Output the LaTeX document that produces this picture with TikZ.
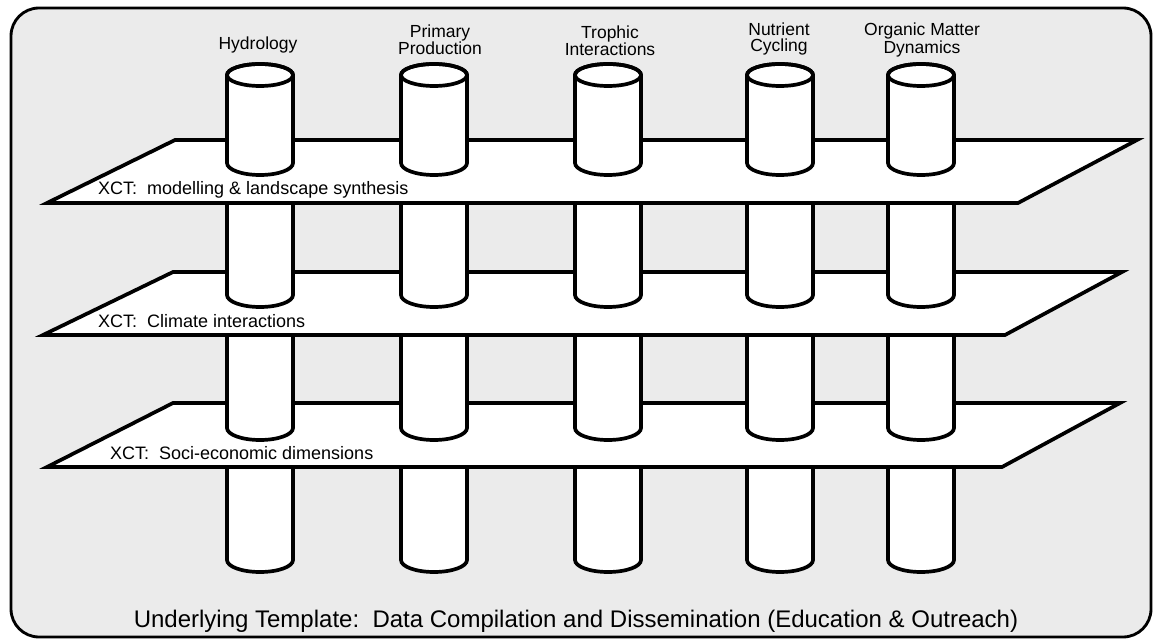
\documentclass[tikz,border=0pt]{standalone}
\usepackage{fontspec}
\setmainfont{Liberation Sans}
\usetikzlibrary{calc}
\definecolor{framegray}{RGB}{235,235,235}
\tikzset{
    pipe/.style={fill=white, draw=black, line width=1.3mm},
    layer/.style={fill=white, draw=black, line width=1.3mm},
    coltitle/.style={align=center, inner sep=0pt, font=\fontsize{17.5pt}{16pt}\selectfont},
    layertext/.style={anchor=base west, inner sep=0pt, font=\fontsize{18pt}{18pt}\selectfont}
}
\newcommand{\drawpipetop}[3]{
    \begin{scope}[shift={(#1,0)}]
        \filldraw [pipe] (-33,#2) -- (-33,{#3-12}) arc (180:0:33 and 12) -- (33,#2) arc (360:180:33 and 11) -- cycle;
        \draw [pipe, fill=none] (0,#2) ellipse (33 and 11);
    \end{scope}
}
\newcommand{\drawpipepart}[3]{
    \begin{scope}[shift={(#1,0)}]
        \filldraw [pipe] (-33,#2) -- (-33,{#3-12}) arc (180:0:33 and 12) -- (33,#2);
    \end{scope}
}
\newcommand{\drawpiperow}[2]{
    \drawpipepart{260}{#1}{#2}
    \drawpipepart{434}{#1}{#2}
    \drawpipepart{608}{#1}{#2}
    \drawpipepart{780}{#1}{#2}
    \drawpipepart{921}{#1}{#2}
}
\newcommand{\drawlayer}[4]{
    \draw [layer] (#1) -- (#2) -- (#3) -- (#4) -- cycle;
}

\begin{document}
\begin{tikzpicture}[x=1pt, y=-1pt]
    \useasboundingbox (0,0) rectangle (1156,639);
    % frame
    \draw [line width=1mm, fill=framegray, rounded corners=28pt] (11,8) rectangle (1151,637);
    % layers from the bottom up
    \drawpiperow{467}{572}
    \drawlayer{173,403}{1120,403}{1002,467}{47,467}
    \drawpiperow{336}{440}
    \drawlayer{173,272}{1122,272}{1005,335}{43,335}
    \drawpiperow{203}{307}
    \drawlayer{175,140}{1137,140}{1018,203}{47,203}
    % pipe tops
    \drawpipetop{260}{75}{175}
    \drawpipetop{434}{75}{175}
    \drawpipetop{608}{75}{175}
    \drawpipetop{780}{75}{175}
    \drawpipetop{921}{75}{175}
    % titles
    \node [coltitle] (hydrology) at (258,45) {Hydrology};
    \node [coltitle] (primprod) at (440,40) {Primary\\Production};
    \node [coltitle] (trophic) at (610,41) {Trophic\\Interactions};
    \node [coltitle] (nutrient) at (779,39) {Nutrient\\Cycling};
    \node [coltitle] (organic) at (922,40) {Organic Matter\\Dynamics};
    % layer labels
    \node [layertext] (xctmodel) at (98,195) {XCT:\ \ modelling \& landscape synthesis};
    \node [layertext] (xctclimate) at (98,327) {XCT:\ \ Climate interactions};
    \node [layertext] (xctsocio) at (110,459) {XCT:\ \ Soci-economic dimensions};
    \node [anchor=base, inner sep=0pt, font=\fontsize{24pt}{24pt}\selectfont] (template) at (576,627) {Underlying Template:\ \ Data Compilation and Dissemination (Education \& Outreach)};
\end{tikzpicture}
\end{document}
